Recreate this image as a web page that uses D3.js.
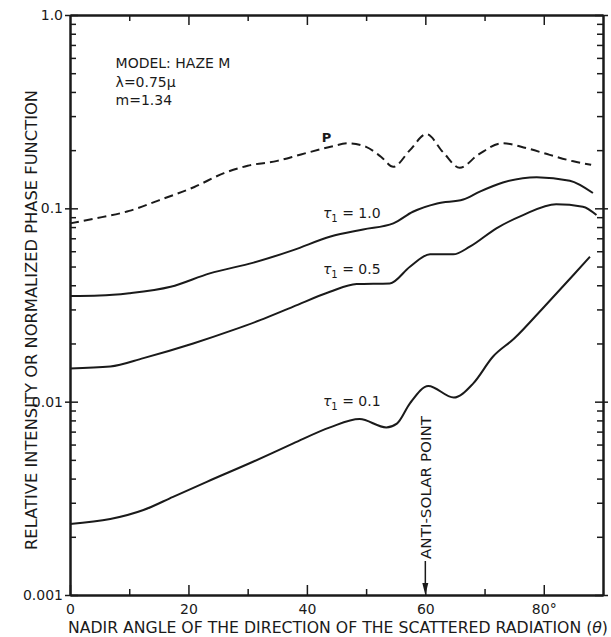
<!DOCTYPE html>
<html>
<head>
<meta charset="utf-8">
<script src="https://cdn.jsdelivr.net/npm/d3@7"></script>
<style>
    body { margin: 0; background: #fff; }
    text { font-family: "DejaVu Sans", sans-serif; fill: #1a1a1a; }
</style>
</head>
<body>
<div id="chart"></div>
<script>
// curve P (phase function), dashed
const pTheta = [0, 4, 10, 15, 21, 26, 30, 35, 39, 44, 47, 50, 52.5, 54.6, 57.4, 60.2, 63, 65.8, 69, 73, 77, 81, 85, 88];
const pValue = [0.0836, 0.0883, 0.097, 0.110, 0.129, 0.152, 0.166, 0.176, 0.190, 0.208, 0.217, 0.208, 0.185, 0.164, 0.200, 0.242, 0.195, 0.162, 0.190, 0.217, 0.205, 0.189, 0.175, 0.168];

// tau1 = 1.0
const tau10Theta = [0, 5, 10, 17, 23.6, 31, 37.7, 44, 49.5, 54.6, 57.9, 62, 66.4, 69.2, 73.1, 78.8, 84.4, 88.3];
const tau10Value = [0.0352, 0.0354, 0.0364, 0.0393, 0.0461, 0.0524, 0.0608, 0.0715, 0.0778, 0.0836, 0.096, 0.106, 0.111, 0.122, 0.136, 0.145, 0.139, 0.120];

// tau1 = 0.5
const tau05Theta = [0, 6.8, 12.4, 20.8, 27.6, 32.1, 37.7, 43.9, 48.4, 54, 57.4, 60.8, 64.7, 67.5, 72, 76.5, 82.1, 86.6, 88.9];
const tau05Value = [0.01486, 0.0152, 0.0168, 0.0200, 0.0235, 0.0264, 0.031, 0.0370, 0.0406, 0.0409, 0.0499, 0.0578, 0.0578, 0.0633, 0.0788, 0.0923, 0.105, 0.102, 0.0923];

// tau1 = 0.1
const tau01Theta = [0, 6.8, 12.4, 17.4, 23.1, 30.9, 37.7, 43.9, 48.9, 53.4, 55.2, 57.4, 60.5, 64.8, 68.1, 71.4, 75, 80, 85, 87.8];
const tau01Value = [0.00233, 0.00247, 0.00275, 0.00322, 0.00385, 0.00489, 0.00608, 0.00736, 0.00813, 0.00736, 0.0077, 0.0098, 0.01205, 0.0105, 0.01244, 0.01707, 0.0212, 0.0308, 0.0452, 0.0562];

const xMajorTicks = [0, 20, 40, 60, 80];
const xMajorLabels = ["0", "20", "40", "60", "80°"];
const xMinorTicks = [10, 30, 50, 70];
const yMajorTicks = [0.001, 0.01, 0.1, 1];
const yMajorLabels = ["0.001", "0.01", "0.1", "1.0"];

const width = 611;
const height = 637;
const margin = { top: 15, right: 8, bottom: 42, left: 70 };

const svg = d3.select("#chart")
    .append("svg")
    .attr("width", width)
    .attr("height", height);

const x = d3.scaleLinear().domain([0, 90]).range([margin.left, width - margin.right]);
const y = d3.scaleLog().domain([0.001, 1]).range([height - margin.bottom, margin.top]);

const yMinorTicks = [];
[0.001, 0.01, 0.1].forEach(d => {
    for (let k = 2; k <= 9; k++) yMinorTicks.push(+(k * d).toPrecision(3));
});

function styleAxis(g) {
    g.select(".domain").attr("stroke", "#1a1a1a").attr("stroke-width", 2);
    g.selectAll(".tick line").attr("stroke", "#1a1a1a").attr("stroke-width", 1.5);
    g.selectAll(".tick text")
        .attr("font-family", "DejaVu Sans, sans-serif")
        .attr("font-size", 14)
        .attr("fill", "#1a1a1a");
}

// bottom axis
const bottomAxis = svg.append("g").attr("transform", `translate(0,${y(0.001)})`);
bottomAxis.append("g")
    .call(d3.axisBottom(x).tickValues(xMinorTicks).tickSize(-6).tickSizeOuter(0).tickFormat(""))
    .call(styleAxis);
bottomAxis.append("g")
    .call(d3.axisBottom(x).tickValues(xMajorTicks).tickSize(-10).tickSizeOuter(0).tickPadding(9)
        .tickFormat((d, i) => xMajorLabels[i]))
    .call(styleAxis);

// top axis
const topAxis = svg.append("g").attr("transform", `translate(0,${y(1)})`);
topAxis.append("g")
    .call(d3.axisTop(x).tickValues(xMinorTicks).tickSize(-6).tickSizeOuter(0).tickFormat(""))
    .call(styleAxis);
topAxis.append("g")
    .call(d3.axisTop(x).tickValues(xMajorTicks.slice(1)).tickSize(-10).tickSizeOuter(0).tickFormat(""))
    .call(styleAxis);

// left axis
const leftAxis = svg.append("g").attr("transform", `translate(${x(0)},0)`);
leftAxis.append("g")
    .call(d3.axisLeft(y).tickValues(yMinorTicks).tickSize(-6).tickSizeOuter(0).tickFormat(""))
    .call(styleAxis);
leftAxis.append("g")
    .call(d3.axisLeft(y).tickValues(yMajorTicks).tickSize(-8).tickSizeOuter(0).tickPadding(7)
        .tickFormat((d, i) => yMajorLabels[i]))
    .call(styleAxis)
    .call(g => g.selectAll(".tick line").attr("x1", -5))
    .call(g => g.selectAll(".tick text").attr("x", -7));

// right axis
const rightAxis = svg.append("g").attr("transform", `translate(${x(90)},0)`);
rightAxis.append("g")
    .call(d3.axisRight(y).tickValues(yMinorTicks).tickSize(-6).tickSizeOuter(0).tickFormat(""))
    .call(styleAxis);
rightAxis.append("g")
    .call(d3.axisRight(y).tickValues(yMajorTicks).tickSize(-8).tickSizeOuter(0).tickFormat(""))
    .call(styleAxis)
    .call(g => g.selectAll(".tick line").attr("x1", 5));

// curves
const line = d3.line()
    .x(d => x(d[0]))
    .y(d => y(d[1]))
    .curve(d3.curveMonotoneX);

const series = [
    { theta: pTheta, value: pValue, dash: "9,5" },
    { theta: tau10Theta, value: tau10Value, dash: null },
    { theta: tau05Theta, value: tau05Value, dash: null },
    { theta: tau01Theta, value: tau01Value, dash: null }
];

series.forEach(s => {
    svg.append("path")
        .datum(s.theta.map((t, i) => [t, s.value[i]]))
        .attr("d", line)
        .attr("fill", "none")
        .attr("stroke", "#1a1a1a")
        .attr("stroke-width", 2)
        .attr("stroke-dasharray", s.dash);
});

// curve labels
svg.append("text")
    .attr("x", x(42.5))
    .attr("y", y(0.220))
    .attr("font-size", 13)
    .attr("font-weight", "bold")
    .text("P");

const tauLabels = [
    { text: "1.0", at: 0.0891 },
    { text: "0.5", at: 0.0457 },
    { text: "0.1", at: 0.00949 }
];
tauLabels.forEach(d => {
    const t = svg.append("text")
        .attr("x", x(42.7))
        .attr("y", y(d.at))
        .attr("font-size", 14);
    t.append("tspan").attr("font-style", "italic").text("τ");
    t.append("tspan").attr("font-size", 10).attr("dy", 4).text("1");
    t.append("tspan").attr("dy", -4).text(" = " + d.text);
});

// model description
const notes = ["MODEL: HAZE M", "λ=0.75μ", "m=1.34"];
svg.append("g")
    .selectAll("text")
    .data(notes)
    .enter()
    .append("text")
    .attr("x", x(7.7))
    .attr("y", (d, i) => [68, 87, 105][i])
    .attr("font-size", 14)
    .text(d => d);

// anti-solar point marker
const ax = x(60);
const ay = y(0.001);
svg.append("line")
    .attr("x1", ax).attr("x2", ax)
    .attr("y1", ay - 34).attr("y2", ay - 6)
    .attr("stroke", "#1a1a1a")
    .attr("stroke-width", 1.5);
svg.append("path")
    .attr("d", `M${ax - 3},${ay - 12} L${ax + 3},${ay - 12} L${ax},${ay} Z`)
    .attr("fill", "#1a1a1a");
svg.append("text")
    .attr("transform", `translate(${ax + 5.5},${ay - 36}) rotate(-90)`)
    .attr("font-size", 14)
    .attr("textLength", 143)
    .attr("lengthAdjust", "spacingAndGlyphs")
    .text("ANTI-SOLAR POINT");

// axis titles
const xTitle = svg.append("text")
    .attr("x", 68)
    .attr("y", 633)
    .attr("font-size", 15)
    .attr("textLength", 540)
    .attr("lengthAdjust", "spacingAndGlyphs");
xTitle.append("tspan").text("NADIR ANGLE OF THE DIRECTION OF THE SCATTERED RADIATION (");
xTitle.append("tspan").attr("font-style", "italic").text("θ");
xTitle.append("tspan").text(")");

svg.append("text")
    .attr("transform", "translate(37,320) rotate(-90)")
    .attr("text-anchor", "middle")
    .attr("font-size", 15)
    .attr("textLength", 460)
    .attr("lengthAdjust", "spacingAndGlyphs")
    .text("RELATIVE INTENSITY OR NORMALIZED PHASE FUNCTION");
</script>
</body>
</html>
